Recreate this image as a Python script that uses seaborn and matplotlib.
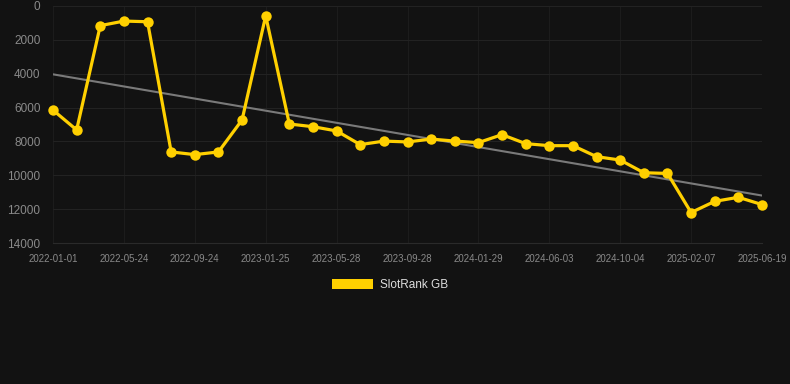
import numpy as np
import pandas as pd
import matplotlib.pyplot as plt
import seaborn as sns
from matplotlib.patches import Patch

# -----------------------------
# Data
# -----------------------------
rank_gb = [6150, 7320, 1160, 890, 930, 8620, 8780, 8620, 6730, 580,
           6970, 7130, 7380, 8190, 7980, 8030, 7860, 7980, 8070, 7600,
           8130, 8250, 8250, 8900, 9100, 9850, 9890, 12200, 11540, 11300,
           11730]
tick_dates = ["2022-01-01", "2022-05-24", "2022-09-24", "2023-01-25",
              "2023-05-28", "2023-09-28", "2024-01-29", "2024-06-03",
              "2024-10-04", "2025-02-07", "2025-06-19"]
series_name = "SlotRank GB"

df = pd.DataFrame({"idx": np.arange(len(rank_gb)), "rank": rank_gb})

# -----------------------------
# Style
# -----------------------------
bg = "#121212"
sns.set_theme(style="dark", rc={
    "figure.facecolor": bg,
    "axes.facecolor": bg,
    "axes.edgecolor": bg,
    "axes.grid": True,
})
plt.rcParams["font.family"] = ["Liberation Sans", "DejaVu Sans"]

fig = plt.figure(figsize=(7.9, 3.84), dpi=100)
ax = fig.add_axes([53 / 790, 1 - 243 / 384, (762 - 53) / 790, (243 - 6) / 384])

# trend line
sns.regplot(data=df, x="idx", y="rank", scatter=False, ci=None, ax=ax,
            color="#7a7a7a", line_kws={"lw": 1.5, "zorder": 2})

# main series
sns.lineplot(data=df, x="idx", y="rank", ax=ax, color="#ffd000", lw=2.3,
             marker="o", markersize=7.5, markeredgewidth=0, zorder=3,
             clip_on=False)

ax.set_xlim(0, len(rank_gb) - 1)
ax.set_ylim(14000, 0)
ax.set_yticks(range(0, 14001, 2000))
ax.set_xticks(range(0, len(rank_gb), 3))
ax.set_xticklabels(tick_dates)
ax.tick_params(axis="y", colors="#8a8a8a", labelsize=8.5, length=0, pad=9)
ax.tick_params(axis="x", colors="#8a8a8a", labelsize=6.9, length=3,
               pad=5, color="#2a2a2a")
ax.set_xlabel("")
ax.set_ylabel("")
ax.grid(False)
ax.yaxis.grid(True, color="#222222", lw=0.8)
ax.xaxis.grid(True, color="#1c1c1c", lw=0.8)
for s in ax.spines.values():
    s.set_visible(False)
ax.spines["bottom"].set_visible(True)
ax.spines["bottom"].set_color("#2a2a2a")
ax.spines["bottom"].set_linewidth(0.8)

handle = Patch(facecolor="#ffd000", edgecolor="none", label=series_name)
fig.legend(handles=[handle], loc="center", bbox_to_anchor=(390 / 790, 1 - 285 / 384),
           frameon=False, fontsize=8.5, labelcolor="#dddddd",
           handlelength=3.5, handleheight=1.0, handletextpad=0.6)

plt.savefig("out.png", dpi=100, facecolor=bg)
plt.close()
